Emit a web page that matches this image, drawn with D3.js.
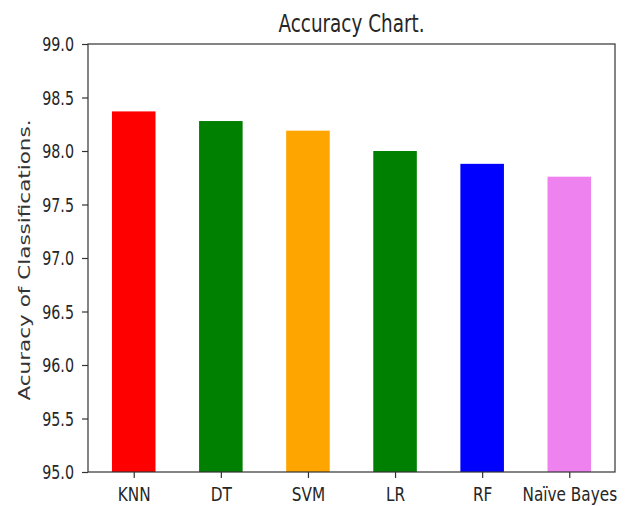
<!DOCTYPE html>
<html><head><meta charset="utf-8">
<script src="https://cdn.jsdelivr.net/npm/d3@7/dist/d3.min.js"></script>
<style>body{margin:0;background:#fff}svg{display:block}</style>
</head><body>
<svg id="c" width="627" height="506"></svg>
<script>
const categories = ["KNN","DT","SVM","LR","RF","Naïve Bayes"];
const accuracy = [98.37, 98.28, 98.19, 98.00, 97.88, 97.76];
const barColors = ["#ff0000","#008000","#ffa500","#008000","#0000ff","#ee82ee"];
const yTicks = [95.0,95.5,96.0,96.5,97.0,97.5,98.0,98.5,99.0];
const titleText = "Accuracy Chart.";
const yLabel = "Acuracy of Classifications.";

const svg = d3.select("#c");
const L = 88, R = 615, T = 44, B = 472;
const SY = 1.32;
const idx = categories.map((d,i)=>i);
const x = d3.scaleLinear().domain([-0.525, 5.525]).range([L, R]);
const y = d3.scaleLinear().domain([95, 99]).range([B, T]);
const bw = x(0.5) - x(0);

svg.selectAll("rect.bar").data(accuracy).join("rect")
  .attr("class","bar")
  .attr("x",(d,i)=>x(i) - bw/2)
  .attr("width", bw)
  .attr("y", d=>y(d))
  .attr("height", d=>y(95)-y(d))
  .attr("fill",(d,i)=>barColors[i]);

const font = "'DejaVu Sans',sans-serif";

const yAxis = d3.axisLeft(y).tickValues(yTicks).tickFormat(d3.format(".1f")).tickSize(6).tickPadding(8);
const gy = svg.append("g").attr("transform",`translate(${L},0)`).call(yAxis);
gy.select(".domain").remove();
gy.selectAll("line").attr("stroke","#333").attr("stroke-width",1.2);
gy.selectAll("text").attr("font-family",font).attr("font-size",14.3).attr("fill","#262626")
  .attr("dy",null).attr("y",0).attr("dominant-baseline","central")
  .attr("transform",`scale(1,${SY})`);

const xAxis = d3.axisBottom(x).tickValues(idx).tickFormat(i=>categories[i]).tickSize(6).tickPadding(5);
const gx = svg.append("g").attr("transform",`translate(0,${B})`).call(xAxis);
gx.select(".domain").remove();
gx.selectAll("line").attr("stroke","#333").attr("stroke-width",1.2);
gx.selectAll("text").attr("font-family",font).attr("font-size",15.3).attr("fill","#262626")
  .attr("dy",null).attr("y",29/SY)
  .attr("transform",`scale(1,${SY})`);

svg.append("rect").attr("x",L).attr("y",T).attr("width",R-L).attr("height",B-T)
  .attr("fill","none").attr("stroke","#333").attr("stroke-width",1.2);

svg.append("text").attr("transform",`translate(${(L+R)/2},32) scale(1,${SY})`).attr("text-anchor","middle")
  .attr("font-family",font).attr("font-size",18.4).attr("fill","#262626").text(titleText);

svg.append("text").attr("transform",`translate(30,260) rotate(-90) scale(${SY},1)`)
  .attr("text-anchor","middle").attr("font-family",font)
  .attr("font-size",16.3).attr("fill","#333").text(yLabel);
</script>
</body></html>
